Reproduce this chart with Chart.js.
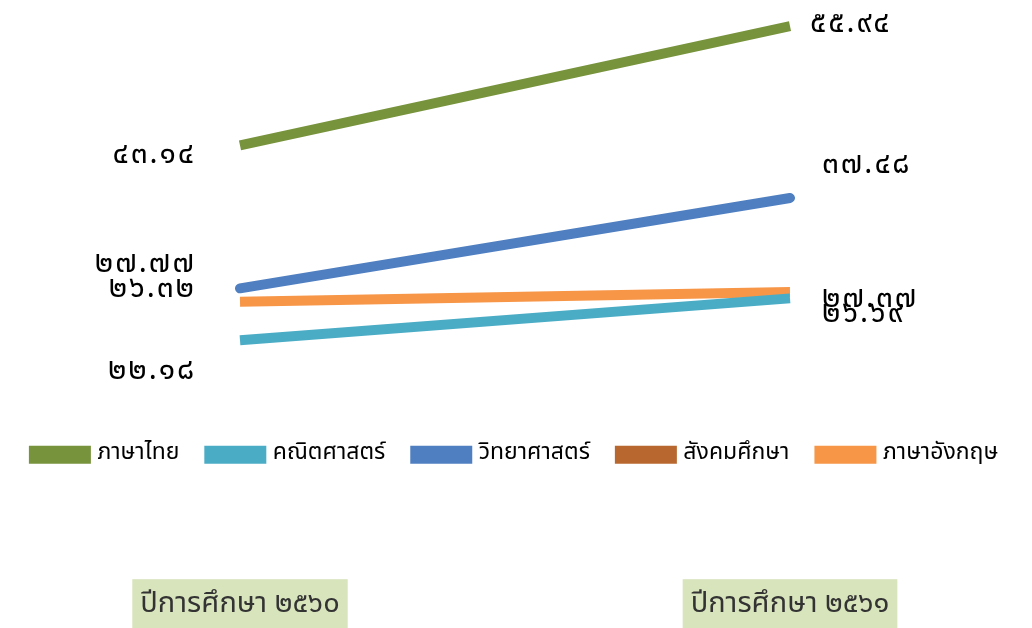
<!DOCTYPE html>
<html>
<head>
<meta charset="utf-8">
<script src="https://cdn.jsdelivr.net/npm/chart.js@4.4.0/dist/chart.umd.min.js"></script>
<style>
  html, body { margin: 0; padding: 0; background: #fff; }
  #wrap { width: 1032px; height: 628px; }
</style>
</head>
<body>
<div id="wrap"><canvas id="myChart"></canvas></div>
<script>
'use strict';

// data
var years = ['ปีการศึกษา ๒๕๖๐', 'ปีการศึกษา ๒๕๖๑'];
var thai = [43.14, 55.94];
var math = [22.18, 26.69];
var science = [27.77, 37.48];
var social = [null, null];
var english = [26.32, 27.37];

var COLORS = {
  green: '#77933c',
  aqua: '#4bacc6',
  blue: '#4f7fc0',
  brown: '#b8682e',
  orange: '#f79646'
};
var FONT = "'Noto Sans Thai', 'Tahoma', 'DejaVu Sans', sans-serif";

// arabic -> thai digits
function thaiNum(v) {
  var d = '๐๑๒๓๔๕๖๗๘๙';
  return v.toFixed(2).replace(/[0-9]/g, function (c) { return d[+c]; });
}

// value labels, like the hand placed ones of the original
var valueLabels = {
  id: 'valueLabels',
  afterDatasetsDraw: function (chart, args, opts) {
    var ctx = chart.ctx;
    ctx.save();
    ctx.font = '30px ' + FONT;
    ctx.letterSpacing = '2px';
    ctx.fillStyle = '#000';
    ctx.textBaseline = 'middle';
    chart.data.datasets.forEach(function (ds, i) {
      var meta = chart.getDatasetMeta(i);
      var off = opts.offsets[i];
      meta.data.forEach(function (pt, j) {
        if (ds.data[j] == null) return;
        ctx.textAlign = j === 0 ? 'right' : 'left';
        var dx = j === 0 ? -44 : (i === 0 ? 20 : 32);
        ctx.fillText(thaiNum(ds.data[j]), pt.x + dx, pt.y + off[j]);
      });
    });
    ctx.restore();
  }
};

var ctx = document.getElementById('myChart');

function mk(label, data, color, cap) {
  return {
    label: label,
    data: data,
    borderColor: color,
    backgroundColor: color,
    borderWidth: 10,
    borderCapStyle: cap || 'butt',
    pointRadius: 0,
    pointHoverRadius: 0,
    tension: 0
  };
}

new Chart(ctx, {
  type: 'line',
  data: {
    labels: years,
    datasets: [
      mk('ภาษาไทย', thai, COLORS.green),
      mk('คณิตศาสตร์', math, COLORS.aqua),
      mk('วิทยาศาสตร์', science, COLORS.blue, 'round'),
      mk('สังคมศึกษา', social, COLORS.brown),
      mk('ภาษาอังกฤษ', english, COLORS.orange)
    ]
  },
  plugins: [valueLabels],
  options: {
    responsive: true,
    maintainAspectRatio: false,
    animation: false,
    layout: { padding: { top: 7, bottom: 0, left: 0, right: 0 } },
    scales: {
      x: {
        offset: false,
        weight: 2000,
        grid: { display: false },
        border: { display: false },
        ticks: {
          color: '#333',
          padding: 4,
          font: { family: FONT, size: 29 },
          showLabelBackdrop: true,
          backdropColor: '#d8e4bc',
          backdropPadding: { top: 10, bottom: 10, left: 8, right: 8 }
        }
      },
      // empty band between legend and year labels
      gap: {
        type: 'category',
        position: 'bottom',
        weight: 1500,
        grid: { display: false },
        border: { display: false },
        ticks: { display: false },
        afterFit: function (s) { s.height = 101; }
      },
      y: {
        min: 14.35,
        max: 58,
        grid: { display: false },
        border: { display: false },
        ticks: { display: false },
        afterFit: function (s) { s.width = 240; }
      },
      y2: {
        position: 'right',
        grid: { display: false },
        border: { display: false },
        ticks: { display: false },
        afterFit: function (s) { s.width = 242; }
      }
    },
    plugins: {
      legend: {
        position: 'bottom',
        labels: {
          color: '#000',
          font: { family: FONT, size: 23 },
          boxWidth: 52,
          boxHeight: 8,
          padding: 30
        }
      },
      tooltip: { enabled: false },
      valueLabels: {
        offsets: [[12, 0], [33, 18], [-22, -31], [0, 0], [-11, 9]]
      }
    }
  }
});
</script>
</body>
</html>
